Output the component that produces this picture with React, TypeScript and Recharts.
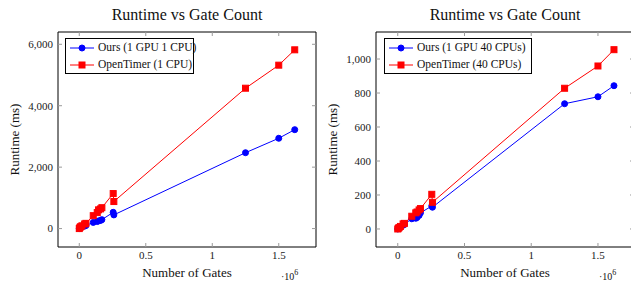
import React from 'react';
import { LineChart, Line, XAxis, YAxis, Label, ReferenceLine } from 'recharts';

const FONT = '"Liberation Serif", "Times New Roman", serif';
const BLUE = '#0000ff';
const RED = '#ff0000';
const TICK_GRAY = '#9a9a9a';

// Gate counts of the benchmark circuits (shared by both panels)
const gateCounts = [0, 5000, 10000, 20000, 40000, 50000, 105000, 135000, 145000, 160000, 170000, 255000, 260000, 1250000, 1500000, 1620000];
// Left panel: 1 CPU
const oursOneCpu = [0, 20, 30, 50, 80, 100, 200, 230, 250, 265, 290, 530, 445, 2470, 2940, 3220];
const openTimerOneCpu = [0, 40, 60, 90, 150, 170, 420, 520, 610, 640, 680, 1140, 880, 4570, 5320, 5820];
// Right panel: 40 CPUs
const oursFortyCpu = [0, 3, 5, 10, 22, 28, 60, 63, 68, 80, 95, 135, 128, 737, 778, 843];
const openTimerFortyCpu = [0, 5, 8, 15, 30, 33, 75, 95, 100, 112, 120, 204, 157, 828, 959, 1055];

const xTicks = [0, 500000, 1000000, 1500000];
const yTicksLeft = [0, 2000, 4000, 6000];
const yTicksRight = [0, 200, 400, 600, 800, 1000];

const titleText = 'Runtime vs Gate Count';
const xLabelText = 'Number of Gates';
const yLabelText = 'Runtime (ms)';

// layout
const CHART_W = 320;
const CHART_H = 282;
const M_TOP = 32;
const M_RIGHT = 4;
const Y_AXIS_W = 58;
const X_AXIS_H = 35;
const PLOT_W = CHART_W - Y_AXIS_W - M_RIGHT;
const PLOT_H = CHART_H - M_TOP - X_AXIS_H;
const TICK_SIZE = 2;
const TICK_MARGIN_X = 2;
const TICK_MARGIN_Y = 3;
const INNER_TICK = 4;

const fmtX = (v: number) => String(v / 1000000);
const fmtY = (v: number) => v.toLocaleString('en-US');

const XTick = (props: any) => {
  const { x, y, payload } = props;
  const axisY = y - TICK_SIZE - TICK_MARGIN_X;
  const topY = axisY - PLOT_H;
  return (
    <g>
      <line x1={x} y1={axisY} x2={x} y2={axisY - INNER_TICK} stroke={TICK_GRAY} />
      <line x1={x} y1={topY} x2={x} y2={topY + INNER_TICK} stroke={TICK_GRAY} />
      <text x={x} y={y} dy="0.71em" textAnchor="middle" fontFamily={FONT} fontSize={11} fill="#1a1a1a">
        {fmtX(payload.value)}
      </text>
    </g>
  );
};

const YTick = (props: any) => {
  const { x, y, payload } = props;
  const axisX = x + TICK_SIZE + TICK_MARGIN_Y;
  const rightX = axisX + PLOT_W;
  return (
    <g>
      <line x1={axisX} y1={y} x2={axisX + INNER_TICK} y2={y} stroke={TICK_GRAY} />
      <line x1={rightX} y1={y} x2={rightX - INNER_TICK} y2={y} stroke={TICK_GRAY} />
      <text x={x} y={y} dy="0.355em" textAnchor="end" fontFamily={FONT} fontSize={11} fill="#1a1a1a">
        {fmtY(payload.value)}
      </text>
    </g>
  );
};

const CircleDot = (props: any) => {
  const { cx, cy, index } = props;
  if (cx == null || cy == null) return null;
  return <circle key={`c${index}`} cx={cx} cy={cy} r={3} fill={BLUE} stroke={BLUE} strokeWidth={1} />;
};
const SquareDot = (props: any) => {
  const { cx, cy, index } = props;
  if (cx == null || cy == null) return null;
  return <rect key={`s${index}`} x={cx - 3} y={cy - 3} width={6} height={6} fill={RED} stroke={RED} strokeWidth={1} />;
};

const LegendBox = ({ items, width }: { items: { name: string; color: string; shape: string }[]; width: number }) => (
  <div style={{ border: '1px solid #000', background: '#fff', width, boxSizing: 'border-box', fontFamily: FONT, fontSize: 11.5, color: '#111' }}>
    {items.map((it) => (
      <div key={it.name} style={{ display: 'flex', alignItems: 'center', height: 17 }}>
        <svg width={24} height={10} style={{ marginLeft: 4, flex: 'none' }}>
          <line x1={0} y1={5} x2={24} y2={5} stroke={it.color} strokeWidth={1} />
          {it.shape === 'circle' ? (
            <circle cx={12} cy={5} r={3} fill={it.color} stroke={it.color} />
          ) : (
            <rect x={9} y={2} width={6} height={6} fill={it.color} stroke={it.color} />
          )}
        </svg>
        <span style={{ marginLeft: 4, whiteSpace: 'nowrap', lineHeight: '17px' }}>{it.name}</span>
      </div>
    ))}
  </div>
);

type PanelProps = {
  left: number;
  ours: number[];
  ot: number[];
  oursName: string;
  otName: string;
  yTicks: number[];
  yDomain: [number, number];
  xDomain: [number, number];
  legendLeft: number;
  legendWidth: number;
};

function Panel({ left, ours, ot, oursName, otName, yTicks, yDomain, xDomain, legendLeft, legendWidth }: PanelProps) {
  const data = gateCounts.map((g, i) => ({ gates: g, ours: ours[i], ot: ot[i] }));
  return (
    <div style={{ position: 'absolute', left, top: 0, width: CHART_W, height: CHART_H }}>
      <LineChart width={CHART_W} height={CHART_H} data={data} margin={{ top: M_TOP, right: M_RIGHT, bottom: 0, left: 0 }}>
        <XAxis
          xAxisId="b"
          dataKey="gates"
          type="number"
          domain={xDomain}
          allowDataOverflow
          ticks={xTicks}
          interval={0}
          tickLine={false}
          axisLine={{ stroke: '#000' }}
          height={X_AXIS_H}
          tickSize={TICK_SIZE}
          tickMargin={TICK_MARGIN_X}
          tick={XTick}
        >
          <Label
            content={(p: any) => {
              const vb = p.viewBox || {};
              const cx = vb.x + vb.width / 2;
              return (
                <g>
                  <text x={cx} y={20} textAnchor="middle" fontFamily={FONT} fontSize={16} fill="#111">
                    {titleText}
                  </text>
                  <text x={cx} y={277} textAnchor="middle" fontFamily={FONT} fontSize={13} fill="#111">
                    {xLabelText}
                  </text>
                  <text x={vb.x + vb.width - 35} y={280} textAnchor="start" fontFamily={FONT} fontSize={10} fill="#111">
                    {'·10'}
                    <tspan dy={-5} fontSize={8}>6</tspan>
                  </text>
                </g>
              );
            }}
          />
        </XAxis>
        <YAxis
          yAxisId="l"
          type="number"
          domain={yDomain}
          allowDataOverflow
          ticks={yTicks}
          interval={0}
          width={Y_AXIS_W}
          tickLine={false}
          axisLine={{ stroke: '#000' }}
          tickSize={TICK_SIZE}
          tickMargin={TICK_MARGIN_Y}
          tick={YTick}
        >
          <Label
            content={(p: any) => {
              const vb = p.viewBox || {};
              const cy = vb.y + vb.height / 2;
              const cx = 14;
              return (
                <text x={cx} y={cy} transform={`rotate(-90, ${cx}, ${cy})`} textAnchor="middle" dominantBaseline="central" fontFamily={FONT} fontSize={13} fill="#111">
                  {yLabelText}
                </text>
              );
            }}
          />
        </YAxis>
        <ReferenceLine xAxisId="b" yAxisId="l" y={yDomain[1]} stroke="#000" strokeWidth={1} />
        <ReferenceLine xAxisId="b" yAxisId="l" x={xDomain[1]} stroke="#000" strokeWidth={1} />
        <Line xAxisId="b" yAxisId="l" dataKey="ours" name={oursName} stroke={BLUE} strokeWidth={1} dot={CircleDot} activeDot={false} isAnimationActive={false} />
        <Line xAxisId="b" yAxisId="l" dataKey="ot" name={otName} stroke={RED} strokeWidth={1} dot={SquareDot} activeDot={false} isAnimationActive={false} />
      </LineChart>
      <div style={{ position: 'absolute', left: legendLeft, top: 38 }}>
        <LegendBox
          width={legendWidth}
          items={[
            { name: oursName, color: BLUE, shape: 'circle' },
            { name: otName, color: RED, shape: 'square' },
          ]}
        />
      </div>
    </div>
  );
}

export default function App() {
  return (
    <div style={{ position: 'absolute', left: 0, top: 0, width: 631, height: 282, overflow: 'hidden', background: '#fff' }}>
      <Panel
        left={0}
        ours={oursOneCpu}
        ot={openTimerOneCpu}
        oursName="Ours (1 GPU 1 CPU)"
        otName="OpenTimer (1 CPU)"
        yTicks={yTicksLeft}
        yDomain={[-600, 6400]}
        xDomain={[-160000, 1780000]}
        legendLeft={65}
        legendWidth={129}
      />
      <Panel
        left={318}
        ours={oursFortyCpu}
        ot={openTimerFortyCpu}
        oursName="Ours (1 GPU 40 CPUs)"
        otName="OpenTimer (40 CPUs)"
        yTicks={yTicksRight}
        yDomain={[-106, 1159]}
        xDomain={[-163000, 1770000]}
        legendLeft={66}
        legendWidth={148}
      />
    </div>
  );
}
